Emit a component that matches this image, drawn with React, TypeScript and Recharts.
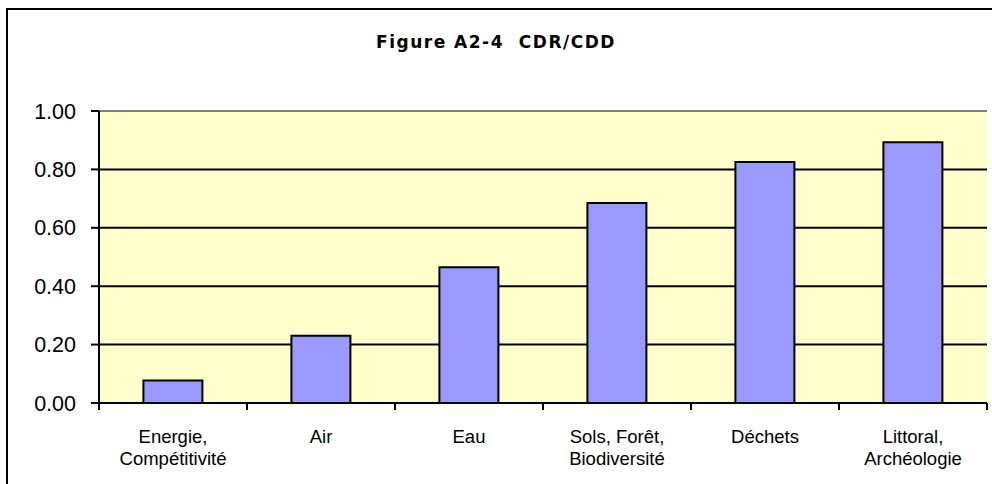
import { BarChart, Bar, XAxis, YAxis, CartesianGrid, ReferenceLine } from "recharts";

const categories = [
  "Energie,\nCompétitivité",
  "Air",
  "Eau",
  "Sols, Forêt,\nBiodiversité",
  "Déchets",
  "Littoral,\nArchéologie",
];
const values = [0.077, 0.23, 0.465, 0.685, 0.825, 0.893];
const yTicks = [0, 0.2, 0.4, 0.6, 0.8, 1.0];
const boundaryTicks = [0, 1, 2, 3, 4, 5, 6];

const data = categories.map((name, i) => ({ name, value: values[i], idx: i + 0.5 }));

const CategoryTick = (props: any) => {
  const { x, y, payload } = props;
  const lines = String(payload.value).split("\n");
  return (
    <text
      x={x}
      y={y}
      textAnchor="middle"
      fontSize={18.5}
      fontFamily="'Liberation Sans', Arial, sans-serif"
      fill="#000"
    >
      {lines.map((l, i) => (
        <tspan key={i} x={x} dy={i === 0 ? 31 : 22}>
          {l}
        </tspan>
      ))}
    </text>
  );
};

const App = () => {
  return (
    <div
      style={{
        position: "absolute",
        left: 0,
        top: 0,
        width: 992,
        height: 484,
        overflow: "hidden",
        background: "#fff",
      }}
    >
      <div
        style={{
          position: "absolute",
          left: 6,
          top: 8,
          width: 1000,
          height: 500,
          border: "2px solid #000",
        }}
      />
      <div
        style={{
          position: "absolute",
          left: 0,
          top: 32,
          width: 992,
          textAlign: "center",
          whiteSpace: "pre",
          fontFamily: "'Comic Sans MS', 'DejaVu Sans', sans-serif",
          fontWeight: "bold",
          fontSize: 17,
          letterSpacing: 1.5,
        }}
      >
        {"Figure A2-4  CDR/CDD"}
      </div>
      <div style={{ position: "absolute", left: 0, top: 0 }}>
        <BarChart
          width={992}
          height={484}
          data={data}
          margin={{ top: 111, right: 5, bottom: 21, left: 0 }}
          barCategoryGap="30%"
        >
          <CartesianGrid
            xAxisId="b"
            yAxisId="left"
            vertical={false}
            stroke="#000"
            strokeWidth={2}
            fill="#FFFFCC"
            fillOpacity={1}
          />
          <XAxis
            xAxisId="a"
            type="number"
            dataKey="idx"
            domain={[0, 6]}
            ticks={boundaryTicks}
            interval={0}
            tick={{ fontSize: 1, fill: "none" }}
            tickFormatter={() => " "}
            tickSize={7}
            height={1}
            axisLine={false}
            tickLine={{ stroke: "#000", strokeWidth: 2 }}
            allowDataOverflow
          />
          <XAxis
            xAxisId="b"
            dataKey="name"
            height={59}
            interval={0}
            tickLine={false}
            axisLine={false}
            tick={<CategoryTick />}
          />
          <YAxis
            yAxisId="left"
            domain={[0, 1]}
            ticks={yTicks}
            width={99}
            tickSize={8}
            tickMargin={15}
            interval={0}
            tickFormatter={(v: number) => v.toFixed(2)}
            axisLine={{ stroke: "#000", strokeWidth: 2 }}
            tickLine={{ stroke: "#000", strokeWidth: 2 }}
            tick={{ fill: "#000", fontSize: 21.5, fontFamily: "'Liberation Sans', Arial, sans-serif" }}
          />
          <YAxis
            yAxisId="right"
            orientation="right"
            domain={[0, 1]}
            width={0}
            tick={false}
            tickLine={false}
            axisLine={{ stroke: "#808080", strokeWidth: 2 }}
          />
          <ReferenceLine yAxisId="left" xAxisId="b" y={1} stroke="#808080" strokeWidth={2} />
          <ReferenceLine yAxisId="left" xAxisId="b" y={0} stroke="#000" strokeWidth={2} />
          <Bar
            xAxisId="b"
            yAxisId="left"
            dataKey="value"
            fill="#9999FF"
            stroke="#000"
            strokeWidth={2}
            isAnimationActive={false}
          />
        </BarChart>
      </div>
    </div>
  );
};

export default App;
